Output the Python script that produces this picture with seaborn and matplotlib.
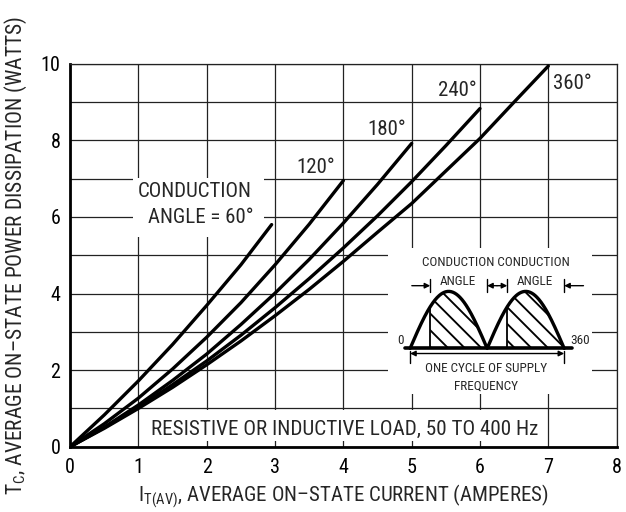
import numpy as np
import pandas as pd
import matplotlib
matplotlib.use("Agg")
import matplotlib.pyplot as plt
from matplotlib import font_manager as fm
from matplotlib.patches import Rectangle
import seaborn as sns

# =========================================
# DATA
# =========================================
angles = ["60°", "120°", "180°", "240°", "360°"]

x60 = [0, 0.5, 1, 1.5, 2, 2.5, 2.95]
y60 = [0, 0.83, 1.72, 2.67, 3.69, 4.75, 5.8]

x120 = [0, 0.5, 1, 1.5, 2, 2.5, 3, 3.5, 4.0]
y120 = [0, 0.6, 1.27, 2.03, 2.86, 3.76, 4.75, 5.81, 6.95]

x180 = [0, 0.5, 1, 1.5, 2, 2.5, 3, 3.5, 4, 4.5, 5.0]
y180 = [0, 0.51, 1.09, 1.73, 2.42, 3.19, 4.01, 4.89, 5.84, 6.85, 7.92]

x240 = [0, 0.5, 1, 1.5, 2, 2.5, 3, 3.5, 4, 4.5, 5, 5.5, 6.0]
y240 = [0, 0.50, 1.03, 1.62, 2.24, 2.91, 3.63, 4.39, 5.19, 6.03, 6.92, 7.86, 8.83]

x360 = [0, 0.5, 1, 1.5, 2, 2.5, 3, 3.5, 4, 4.5, 5, 5.5, 6, 6.5, 7.0]
y360 = [0, 0.48, 1.0, 1.55, 2.14, 2.76, 3.42, 4.11, 4.84, 5.6, 6.35, 7.2, 8.05, 9.0, 9.94]

xticks = [0, 1, 2, 3, 4, 5, 6, 7, 8]
yticks = [0, 2, 4, 6, 8, 10]

df = pd.concat([
    pd.DataFrame({"I": x, "P": y, "angle": a})
    for a, x, y in zip(angles, [x60, x120, x180, x240, x360],
                       [y60, y120, y180, y240, y360])
])

# =========================================
# STYLE - pick a condensed face if one is there
# =========================================
font = "Liberation Sans"
for cand in ["Liberation Sans Narrow", "Roboto Condensed", "Archivo Narrow",
             "PT Sans Narrow", "IBM Plex Sans Condensed", "Fira Sans Condensed",
             "Encode Sans Condensed", "Barlow Semi Condensed"]:
    try:
        fm.findfont(fm.FontProperties(family=cand), fallback_to_default=False)
        font = cand
        break
    except ValueError:
        pass

sns.set_theme(style="white")
plt.rcParams["font.family"] = [font, "DejaVu Sans"]
plt.rcParams["mathtext.fontset"] = "custom"
plt.rcParams["mathtext.rm"] = font
plt.rcParams["mathtext.it"] = font
plt.rcParams["hatch.linewidth"] = 1.35

fig = plt.figure(figsize=(6.26, 5.12), dpi=100)
ax = fig.add_axes([0.112, 0.1275, 0.873, 0.748])

sns.lineplot(data=df, x="I", y="P", hue="angle", palette=["black"] * 5,
             linewidth=2.4, legend=False, ax=ax, zorder=5, sort=False)

ax.set_xlim(0, 8)
ax.set_ylim(0, 10)
ax.set_xticks(xticks)
ax.set_yticks(yticks)
ax.set_yticks([1, 3, 5, 7, 9], minor=True)
ax.grid(True, which="both", color="#222222", linewidth=0.9, zorder=0)
ax.set_axisbelow(True)
ax.tick_params(which="both", length=0, labelsize=14.5, colors="black")
ax.tick_params(axis="x", pad=8)
ax.tick_params(axis="y", pad=7)

for s in ["left", "bottom"]:
    ax.spines[s].set_linewidth(2.0)
    ax.spines[s].set_color("black")
for s in ["top", "right"]:
    ax.spines[s].set_linewidth(0.9)
    ax.spines[s].set_color("#222222")

ax.set_xlabel(r"I$_\mathrm{T(AV)}$, AVERAGE ON–STATE CURRENT (AMPERES)", fontsize=15, labelpad=4)
ax.set_ylabel(r"T$_\mathrm{C}$, AVERAGE ON–STATE POWER DISSIPATION (WATTS)", fontsize=15.5, labelpad=8)

# white panels that break the grid behind the notes
ax.add_patch(Rectangle((0.92, 5.48), 1.92, 1.54, facecolor="white", edgecolor="none", zorder=2))
ax.add_patch(Rectangle((1.02, 0.15), 5.95, 0.82, facecolor="white", edgecolor="none", zorder=2))

ax.text(1.83, 6.53, "CONDUCTION", ha="center", va="baseline", fontsize=15, zorder=3)
ax.text(1.91, 5.85, "ANGLE = 60°", ha="center", va="baseline", fontsize=15, zorder=3)
ax.text(3.59, 7.15, "120°", ha="center", va="baseline", fontsize=15, zorder=3)
ax.text(4.64, 8.15, "180°", ha="center", va="baseline", fontsize=15, zorder=3)
ax.text(5.67, 9.15, "240°", ha="center", va="baseline", fontsize=15, zorder=3)
ax.text(7.35, 9.33, "360°", ha="center", va="baseline", fontsize=15, zorder=3)
ax.text(4.02, 0.32, "RESISTIVE OR INDUCTIVE LOAD, 50 TO 400 Hz", ha="center",
        va="baseline", fontsize=15.2, zorder=3)

# =========================================
# INSET: conduction angle sketch
# =========================================
ins = fig.add_axes([0.62, 0.2305, 0.326, 0.285], zorder=6)
ins.set_facecolor("white")
ins.set_xticks([])
ins.set_yticks([])
for s in ins.spines.values():
    s.set_visible(False)
ins.set_xlim(-51.4, 425.4)
ins.set_ylim(-0.80, 1.76)

cond_start = 47
th = np.linspace(0, 360, 361)
wave = np.abs(np.sin(np.radians(th)))
for start in [cond_start, 180 + cond_start]:
    m = (th >= start) & (th <= start + 180 - cond_start)
    ins.fill_between(th[m], 0, wave[m], facecolor="white", edgecolor="black",
                     hatch="\\\\", linewidth=0)
    ins.plot([start, start], [0, np.sin(np.radians(cond_start))], color="black", lw=1.3)
ins.plot(th, wave, color="black", lw=2.4)
ins.plot([-12, 378], [0, 0], color="black", lw=2.6)

fs = 9.5
ins.text(200, 1.44, "CONDUCTION CONDUCTION", ha="center", va="baseline", fontsize=fs)
ins.text(112, 1.12, "ANGLE", ha="center", va="baseline", fontsize=fs)
ins.text(291, 1.12, "ANGLE", ha="center", va="baseline", fontsize=fs)
ins.text(-22, 0.08, "0", ha="center", va="baseline", fontsize=fs)
ins.text(398, 0.08, "360", ha="center", va="baseline", fontsize=fs)
ins.text(178, -0.41, "ONE CYCLE OF SUPPLY", ha="center", va="baseline", fontsize=fs)
ins.text(178, -0.73, "FREQUENCY", ha="center", va="baseline", fontsize=fs)

arr = dict(arrowstyle="-|>", color="black", lw=1.0, mutation_scale=8,
           shrinkA=0, shrinkB=0)
ay = 1.1
ins.annotate("", xy=(cond_start, ay), xytext=(4, ay), arrowprops=arr)
ins.annotate("", xy=(180, ay), xytext=(203, ay), arrowprops=arr)
ins.annotate("", xy=(180 + cond_start, ay), xytext=(203, ay), arrowprops=arr)
ins.annotate("", xy=(360, ay), xytext=(405, ay), arrowprops=arr)
for bx in [cond_start, 180, 180 + cond_start, 360]:
    ins.plot([bx, bx], [0.99, 1.21], color="black", lw=1.0)

ins.annotate("", xy=(360, -0.09), xytext=(0, -0.09),
             arrowprops=dict(arrowstyle="<|-|>", color="black", lw=1.0,
                             mutation_scale=8, shrinkA=0, shrinkB=0))
for bx in [0, 360]:
    ins.plot([bx, bx], [-0.05, -0.26], color="black", lw=1.0)

fig.savefig("out.png", dpi=100)
